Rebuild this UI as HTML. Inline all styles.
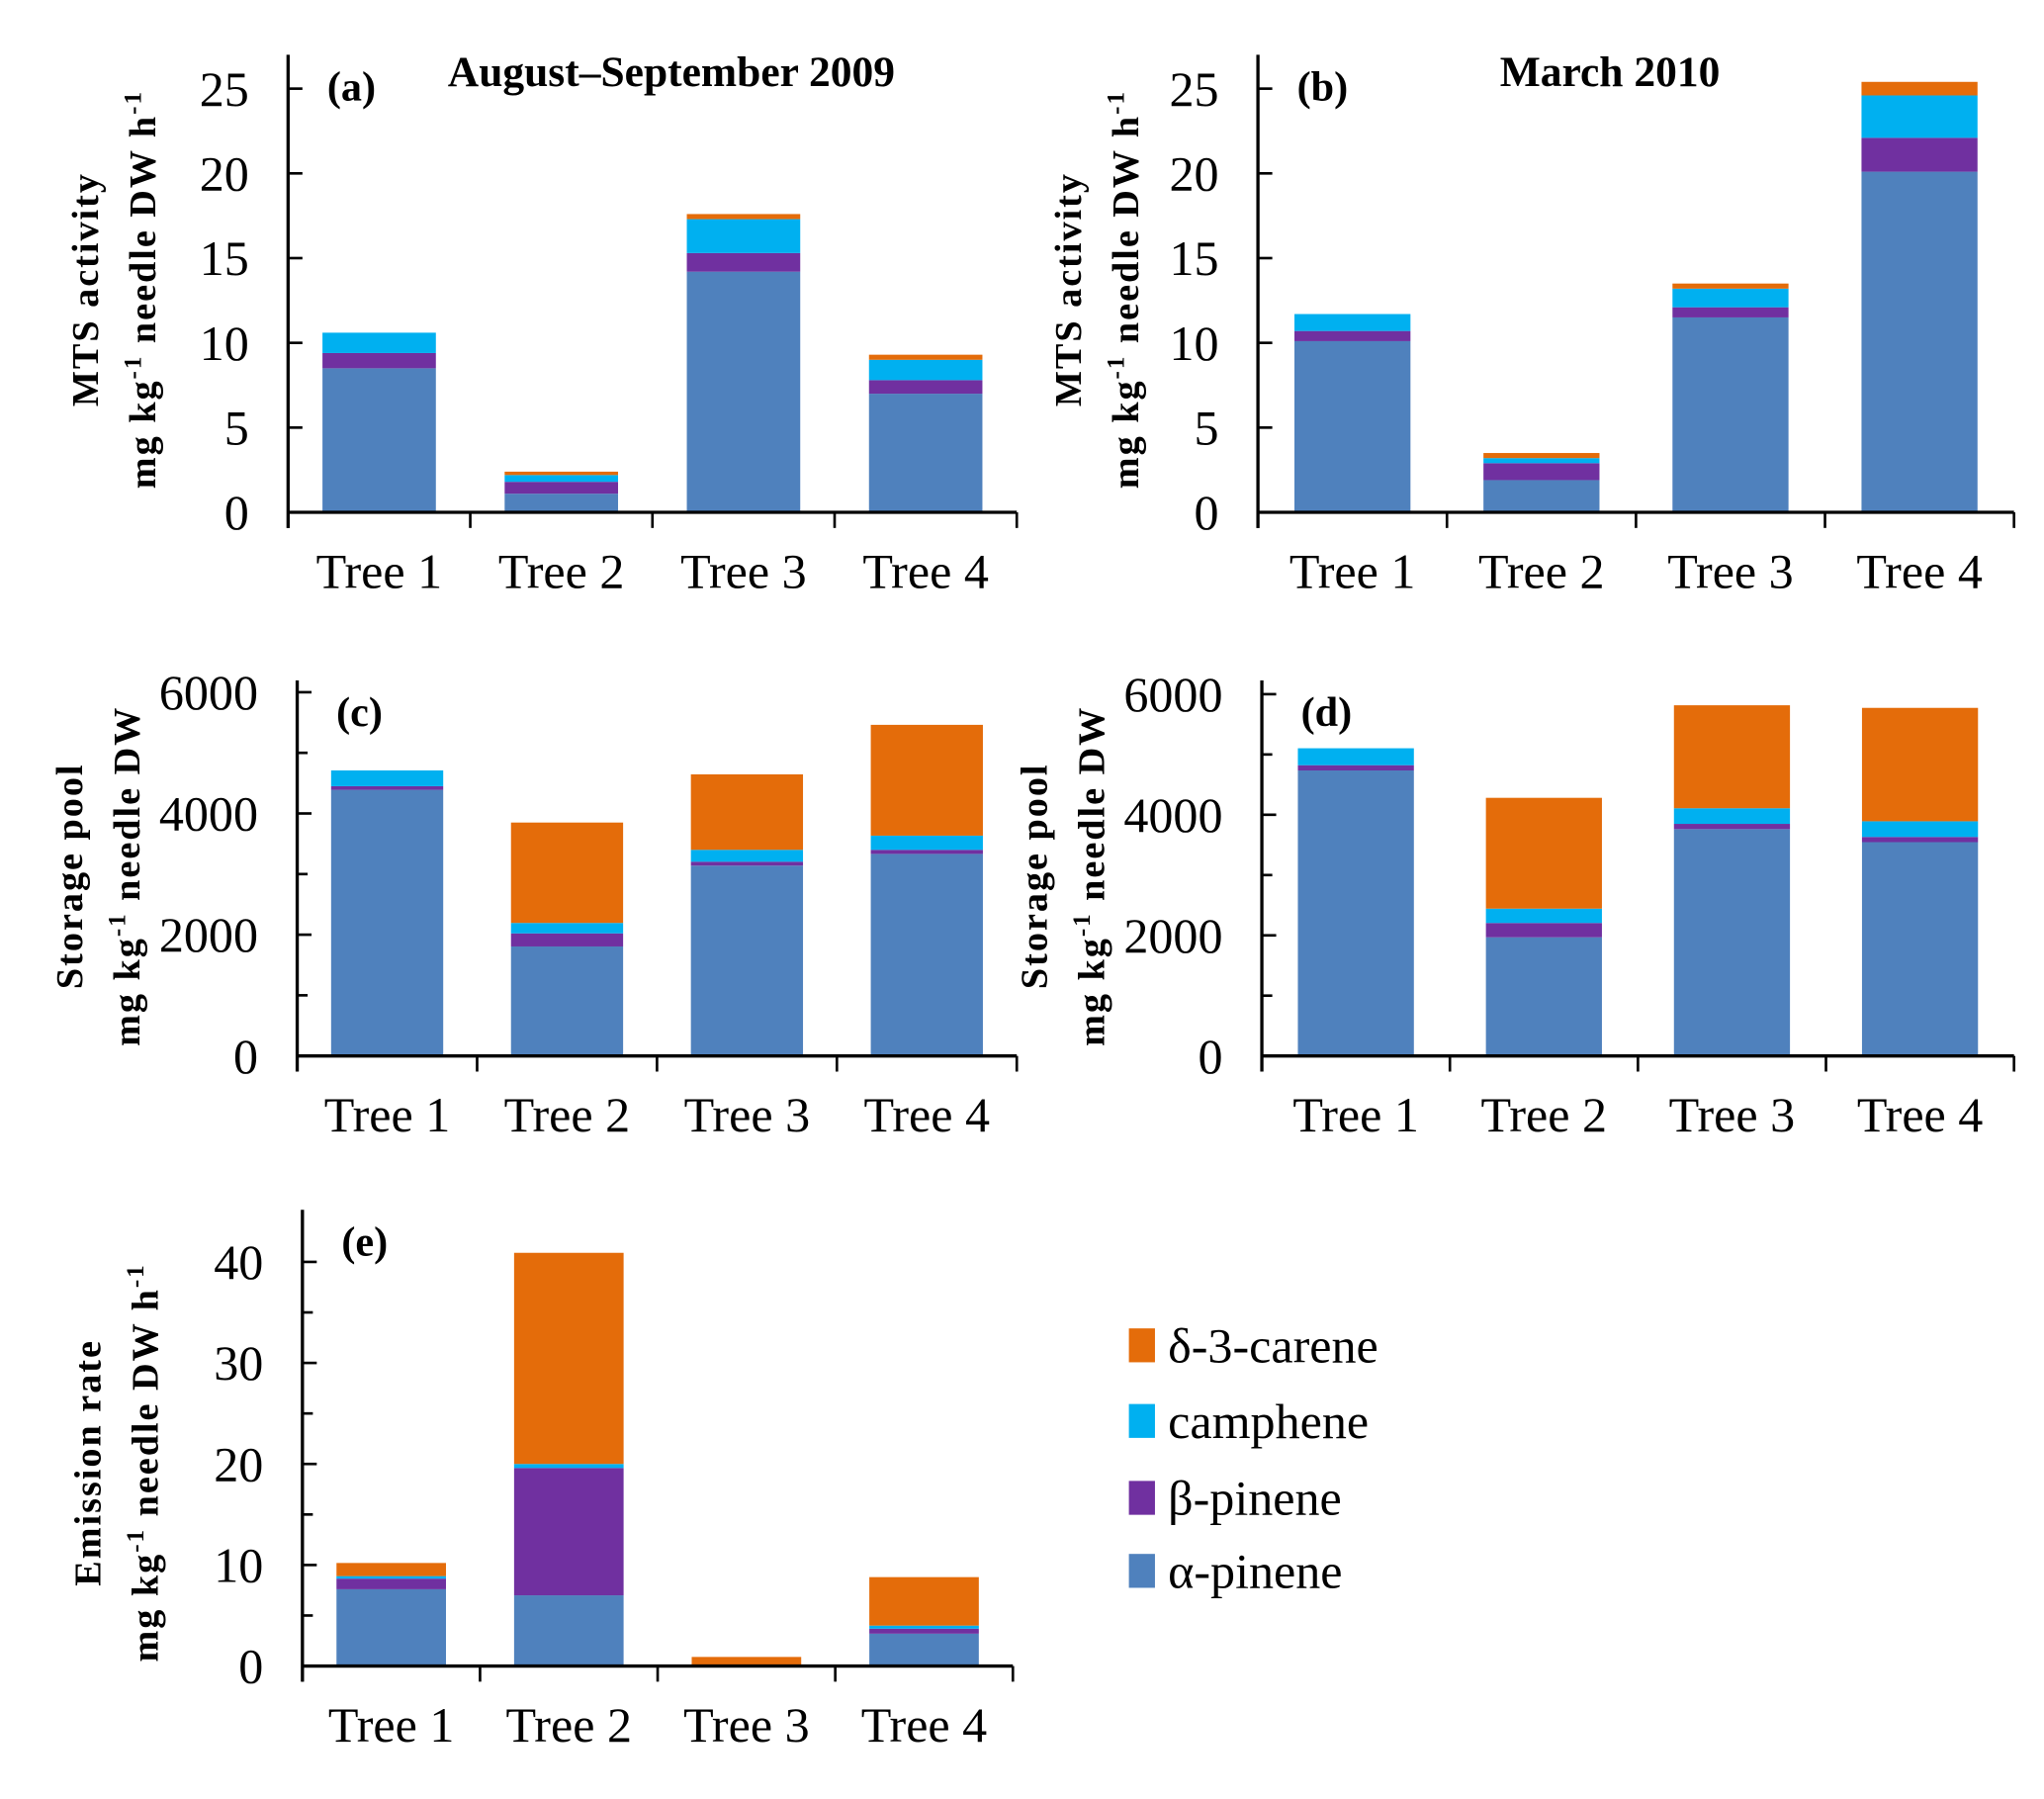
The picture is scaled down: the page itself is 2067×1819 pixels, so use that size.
<!DOCTYPE html>
<html><head><meta charset="utf-8">
<style>
html,body{margin:0;padding:0;background:#fff;}
svg{display:block;}
text{font-family:"Liberation Serif",serif;fill:#000;}
</style></head>
<body>
<svg id="fig" xmlns="http://www.w3.org/2000/svg" width="2067" height="1819" viewBox="0 0 1568 1380" preserveAspectRatio="none">
<rect width="1568" height="1380" fill="#fff"/>
</svg>
<script>
const categories = ["Tree 1","Tree 2","Tree 3","Tree 4"];
const seriesNames = ["α-pinene","β-pinene","camphene","δ-3-carene"];
const colors = ["#4f81bd","#7030a0","#00b0f0","#e46c0a"];
// panel a: MTS activity Aug-Sep 2009
const aAlpha = [8.5, 1.1, 14.2, 7.0];
const aBeta = [0.9, 0.7, 1.1, 0.8];
const aCamph = [1.2, 0.4, 2.0, 1.2];
const aCarene = [0, 0.2, 0.3, 0.3];
const aTicks = [0,5,10,15,20,25];
// panel b: MTS activity March 2010
const bAlpha = [10.1, 1.9, 11.5, 20.1];
const bBeta = [0.6, 1.0, 0.6, 2.0];
const bCamph = [1.0, 0.3, 1.1, 2.5];
const bCarene = [0, 0.3, 0.3, 0.8];
const bTicks = [0,5,10,15,20,25];
// panel c: storage pool 2009
const cAlpha = [4390, 1806, 3140, 3333];
const cBeta = [60, 216, 64, 67];
const cCamph = [260, 172, 196, 234];
const cCarene = [0, 1656, 1245, 1828];
const cTicks = [0,2000,4000,6000];
// panel d: storage pool 2010
const dAlpha = [4735, 1968, 3762, 3546];
const dBeta = [87, 237, 87, 86];
const dCamph = [281, 238, 259, 260];
const dCarene = [0, 1838, 1708, 1881];
const dTicks = [0,2000,4000,6000];
// panel e: emission rate
const eAlpha = [7.6, 7.0, 0, 3.2];
const eBeta = [1.05, 12.6, 0, 0.5];
const eCamph = [0.25, 0.4, 0, 0.3];
const eCarene = [1.3, 20.9, 0.9, 4.8];
const eTicks = [0,10,20,30,40];

const NS="http://www.w3.org/2000/svg";
const svg=document.getElementById('fig');
function mk(tag,attrs,parent){const e=document.createElementNS(NS,tag);for(const k in attrs)e.setAttribute(k,attrs[k]);(parent||svg).appendChild(e);return e;}

function panel(cfg){
  const g=mk('g',{});
  
  
  const y=v=>cfg.y0-(v/cfg.unit)*cfg.unitPx;
  const step=(cfg.x1-cfg.x0)/categories.length;
  const xc=i=>cfg.x0+step*(i+0.5);
  const bw=cfg.bw;
  const series=cfg.series;
  categories.forEach((c,i)=>{
    let acc=0;
    series.forEach((arr,s)=>{
      const v=arr[i]; if(v<=0)return;
      const r=mk('rect',{x:xc(i)-bw/2,y:y(acc+v),width:bw,height:y(acc)-y(acc+v),fill:colors[s]},g);
      
      
      acc+=v;
    });
  });
  const ya=mk('line',{x1:cfg.x0,y1:cfg.top,x2:cfg.x0,y2:cfg.y0+12,stroke:'#000','stroke-width':2.5},g);
  
  
  const xa=mk('line',{x1:cfg.x0,y1:cfg.y0,x2:cfg.x1,y2:cfg.y0,stroke:'#000','stroke-width':2.5},g);
  
  
  for(let i=0;i<=categories.length;i++){
    mk('line',{x1:cfg.x0+step*i,y1:cfg.y0,x2:cfg.x0+step*i,y2:cfg.y0+12,stroke:'#000','stroke-width':2},g);
  }
  cfg.ticks.forEach(t=>{
    mk('line',{x1:cfg.x0,y1:y(t),x2:cfg.x0+11,y2:y(t),stroke:'#000','stroke-width':2},g);
    const tl=mk('text',{x:cfg.x0-30,y:y(t)+13,'font-size':38,'text-anchor':'end'},g);
    tl.textContent=t;
    
    
  });
  if(cfg.minor){
    for(let k=0;k<cfg.ticks.length-1;k++){
      const m=(cfg.ticks[k]+cfg.ticks[k+1])/2;
      mk('line',{x1:cfg.x0,y1:y(m),x2:cfg.x0+8,y2:y(m),stroke:'#000','stroke-width':2},g);
    }
  }
  categories.forEach((c,i)=>{
    const t=mk('text',{x:xc(i),y:cfg.y0+58,'font-size':38,'text-anchor':'middle'},g);
    t.textContent=c;
    
    
  });
  const pl=mk('text',{x:cfg.x0+30,y:cfg.top+35,'font-size':32,'font-weight':'bold'},g);
  pl.textContent='('+cfg.id+')';
  
  
  if(cfg.title){
    const tt=mk('text',{x:cfg.titleX,y:cfg.top+24,'font-size':33,'font-weight':'bold','text-anchor':'middle'},g);
    tt.textContent=cfg.title;
    
    
  }
  const t1=mk('text',{transform:`translate(${cfg.tx1},${cfg.tcy}) rotate(-90)`,'font-size':29,'font-weight':'bold','text-anchor':'middle','letter-spacing':1.5},g);
  t1.textContent=cfg.ytitle1;
  
  
  const t2=mk('text',{transform:`translate(${cfg.tx1+44},${cfg.tcy}) rotate(-90)`,'font-size':29,'font-weight':'bold','text-anchor':'middle','letter-spacing':1.5},g);
  t2.innerHTML=cfg.ytitle2;
  
  
}
const u1='mg kg<tspan dy="-11" font-size="19">-1</tspan><tspan dy="11"> needle DW h</tspan><tspan dy="-11" font-size="19">-1</tspan>';
const u2='mg kg<tspan dy="-11" font-size="19">-1</tspan><tspan dy="11"> needle DW</tspan>';
panel({id:'a',x0:221,x1:780,y0:393,top:42,unit:5,unitPx:65,bw:87,ticks:aTicks,series:[aAlpha,aBeta,aCamph,aCarene],title:'August–September 2009',titleX:515,tx1:75,tcy:222,ytitle1:'MTS activity',ytitle2:u1});
panel({id:'b',x0:965,x1:1545,y0:393,top:42,unit:5,unitPx:65,bw:89,ticks:bTicks,series:[bAlpha,bBeta,bCamph,bCarene],title:'March 2010',titleX:1235,tx1:829,tcy:222,ytitle1:'MTS activity',ytitle2:u1});
panel({id:'c',x0:228,x1:780,y0:810,top:522,unit:2000,unitPx:93,bw:86,ticks:cTicks,series:[cAlpha,cBeta,cCamph,cCarene],minor:true,tx1:63,tcy:672,ytitle1:'Storage pool',ytitle2:u2});
panel({id:'d',x0:968,x1:1545,y0:810,top:522,unit:2000,unitPx:92.5,bw:89,ticks:dTicks,series:[dAlpha,dBeta,dCamph,dCarene],minor:true,tx1:803,tcy:672,ytitle1:'Storage pool',ytitle2:u2});
panel({id:'e',x0:232,x1:777,y0:1278,top:928,unit:10,unitPx:77.5,bw:84,ticks:eTicks,series:[eAlpha,eBeta,eCamph,eCarene],minor:true,tx1:77,tcy:1122,ytitle1:'Emission rate',ytitle2:u1});

const legY=[1205,1149,1090,1032];
const lg=mk('g',{});


seriesNames.forEach((n,s)=>{
  const it=mk('g',{},lg);
  
  
  mk('rect',{x:866,y:legY[s]-13,width:20,height:26,fill:colors[s]},it);
  const t=mk('text',{x:896,y:legY[s]+13,'font-size':38},it);
  t.textContent=n;
});
</script>
</body></html>
